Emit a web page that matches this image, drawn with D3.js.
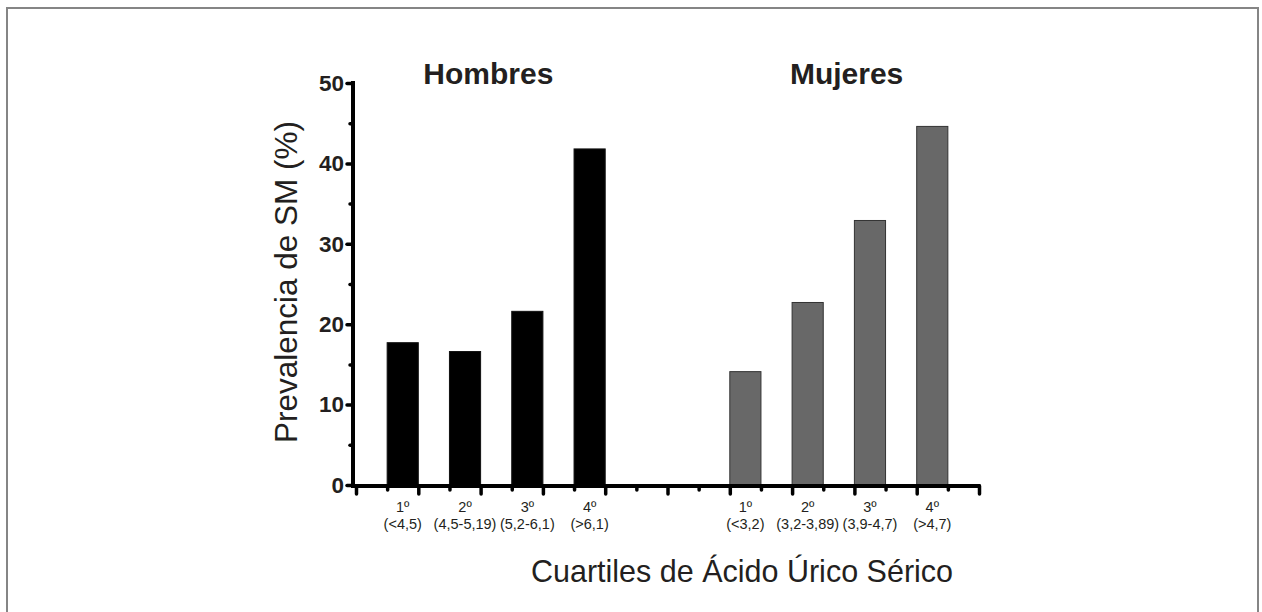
<!DOCTYPE html>
<html>
<head>
<meta charset="utf-8">
<script src="https://cdn.jsdelivr.net/npm/d3@7"></script>
<style>
  body { margin: 0; background: #fff; }
  svg text { font-family: "Liberation Sans", Arial, Helvetica, sans-serif; fill: #231f20; }
</style>
</head>
<body>
<script>
// Prevalencia de SM por cuartiles de acido urico
const groups = ["Hombres", "Mujeres"];
const quartiles = ["1º", "2º", "3º", "4º"];
const hombresRanges = ["(<4,5)", "(4,5-5,19)", "(5,2-6,1)", "(>6,1)"];
const mujeresRanges = ["(<3,2)", "(3,2-3,89)", "(3,9-4,7)", "(>4,7)"];
const hombresValues = [17.7, 16.6, 21.6, 41.8];
const mujeresValues = [14.1, 22.7, 32.9, 44.6];
const yTicks = [0, 10, 20, 30, 40, 50];

(function() {
    const W = 1262, H = 612;
    const svg = d3.select("body").append("svg")
        .attr("width", W)
        .attr("height", H);

    // outer frame
    svg.append("rect")
        .attr("x", 7).attr("y", 8)
        .attr("width", 1251).attr("height", 620)
        .attr("fill", "none")
        .attr("stroke", "#858585")
        .attr("stroke-width", 2);

    // x is measured in half-slots: 0..20
    const x = d3.scaleLinear().domain([0, 20]).range([356, 979]);
    const y = d3.scaleLinear().domain([0, 50]).range([485, 83]);

    const bars = [];
    hombresValues.forEach((v, i) => bars.push({ g: 0, i: i, v: v, pos: 1 + 2 * i, range: hombresRanges[i] }));
    mujeresValues.forEach((v, i) => bars.push({ g: 1, i: i, v: v, pos: 12 + 2 * i, range: mujeresRanges[i] }));

    // bars
    svg.append("g").selectAll("rect")
        .data(bars)
        .join("rect")
        .attr("x", d => x(d.pos))
        .attr("y", d => y(d.v))
        .attr("width", d => x(d.pos + 1) - x(d.pos))
        .attr("height", d => y(0) - y(d.v))
        .attr("fill", d => d.g === 0 ? "#000" : "#686868")
        .attr("stroke", d => d.g === 0 ? "#111" : "#333")
        .attr("stroke-width", 1);

    // Y axis: major ticks
    const yAxis = svg.append("g")
        .attr("transform", "translate(353,0)")
        .call(d3.axisLeft(y).tickValues(yTicks).tickSize(6).tickPadding(3))
        .call(g => g.select(".domain").remove());
    yAxis.selectAll(".tick line")
        .attr("stroke", "#000").attr("stroke-width", 3.5).attr("stroke-linecap", "round");
    yAxis.selectAll(".tick text")
        .attr("font-size", 22.5).attr("font-weight", "bold").attr("fill", "#000");
    // Y axis: minor ticks
    svg.append("g")
        .attr("transform", "translate(353,0)")
        .call(d3.axisLeft(y).tickValues(d3.range(5, 50, 10)).tickSize(3).tickFormat(""))
        .call(g => g.select(".domain").remove())
        .selectAll(".tick line")
        .attr("stroke", "#000").attr("stroke-width", 3.5).attr("stroke-linecap", "round");
    svg.append("line")
        .attr("x1", 353).attr("x2", 353)
        .attr("y1", y(50) - 2).attr("y2", y(0) + 3)
        .attr("stroke", "#000").attr("stroke-width", 4);

    // X axis: major and minor ticks
    const xMajor = svg.append("g")
        .attr("transform", "translate(0,486)")
        .call(d3.axisBottom(x).tickValues(d3.range(0, 21, 2)).tickSize(8).tickFormat(""))
        .call(g => g.select(".domain").remove());
    xMajor.selectAll(".tick line")
        .attr("stroke", "#000").attr("stroke-width", 3.5).attr("stroke-linecap", "round");
    const xMinor = svg.append("g")
        .attr("transform", "translate(0,486)")
        .call(d3.axisBottom(x).tickValues(d3.range(1, 20, 2)).tickSize(4).tickFormat(""))
        .call(g => g.select(".domain").remove());
    xMinor.selectAll(".tick line")
        .attr("stroke", "#000").attr("stroke-width", 3.5).attr("stroke-linecap", "round");
    svg.append("line")
        .attr("x1", 351).attr("x2", x(20) + 1.5)
        .attr("y1", 486).attr("y2", 486)
        .attr("stroke", "#000").attr("stroke-width", 4);

    // category labels
    const labels = svg.append("g").selectAll("g")
        .data(bars)
        .join("g")
        .attr("transform", d => "translate(" + x(d.pos + 0.5) + ",0)");
    labels.append("text")
        .attr("y", 512)
        .attr("text-anchor", "middle")
        .attr("font-size", 14.5)
        .text(d => quartiles[d.i]);
    labels.append("text")
        .attr("y", 529)
        .attr("text-anchor", "middle")
        .attr("font-size", 14.5)
        .text(d => d.range);

    // group titles
    svg.selectAll(".gtitle")
        .data(groups)
        .join("text")
        .attr("class", "gtitle")
        .attr("x", (d, i) => i === 0 ? x(4.25) : x(15.75))
        .attr("y", 84)
        .attr("text-anchor", "middle")
        .attr("font-size", 30)
        .attr("font-weight", "bold")
        .text(d => d);

    // axis titles
    svg.append("text")
        .attr("transform", "translate(297,282) rotate(-90)")
        .attr("text-anchor", "middle")
        .attr("font-size", 31.5)
        .text("Prevalencia de SM (%)");
    svg.append("text")
        .attr("x", 742)
        .attr("y", 582)
        .attr("text-anchor", "middle")
        .attr("font-size", 30.5)
        .text("Cuartiles de Ácido Úrico Sérico");
})();
</script>
</body>
</html>
